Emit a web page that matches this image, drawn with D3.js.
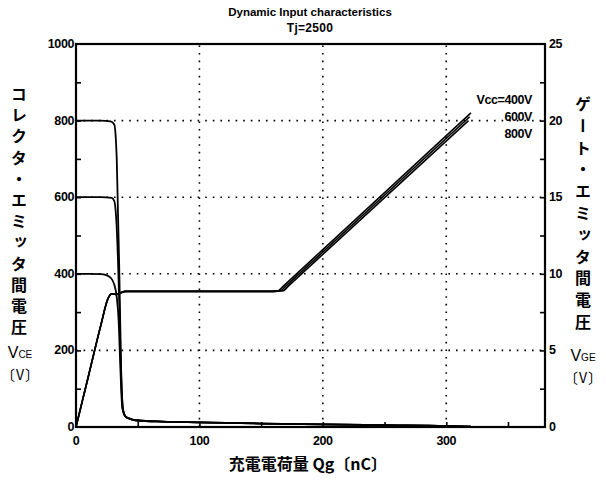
<!DOCTYPE html>
<html>
<head>
<meta charset="utf-8">
<script src="https://cdn.jsdelivr.net/npm/d3@7.9.0/dist/d3.min.js"></script>
<style>
  body { margin: 0; background: #fff; }
  svg text { font-family: "Liberation Sans", Arial, sans-serif; fill: #000; }
  .tick-lbl { font-size: 12.5px; font-weight: bold; letter-spacing: -0.4px; }
  .jp { font-family: "Noto Sans CJK JP", sans-serif; font-size: 16px; font-weight: bold; }
</style>
</head>
<body>
<svg id="chart" width="606" height="490"></svg>
<script>
// ---- data ----
const xTicks   = [0, 100, 200, 300];
const vceTicks = [0, 200, 400, 600, 800, 1000];
const vgeTicks = [0, 5, 10, 15, 20, 25];

// collector-emitter voltage fall (left axis)
const q800 = [0, 10, 20, 28, 31, 33, 34, 35, 36.5, 38];
const v800 = [800, 800, 800, 798, 790, 700, 560, 420, 160, 50];
const q600 = [0, 10, 20, 29, 31, 33, 35, 36.5, 38];
const v600 = [600, 600, 600, 598, 590, 520, 330, 140, 45];
const q400 = [0, 10, 20, 24, 28, 31, 33, 34.5, 36, 37.5];
const v400 = [400, 400, 399, 397, 390, 372, 340, 280, 150, 50];
// shared low tail after the fall
const qTail = [40, 45, 50, 70, 100, 150, 200, 250, 300, 320];
const vTail = [28, 20, 17, 14, 12, 9, 7, 5, 3, 1];

// gate-emitter voltage (right axis)
const qGate = [0, 10, 20, 26, 29, 32, 36, 40, 60, 100, 160];
const vGate = [0, 3.3, 6.6, 8.4, 8.7, 8.65, 8.75, 8.85, 8.85, 8.85, 8.85];
const qRise400 = [164, 168, 320], vRise400 = [8.9, 9.2, 20.5];
const qRise600 = [166, 170, 319], vRise600 = [8.9, 9.2, 20.25];
const qRise800 = [168, 172, 318], vRise800 = [8.9, 9.2, 20.0];

const vccLabels = ["Vcc=400V", "600V", "800V"];

// ---- layout ----
const svg = d3.select('#chart');
const L = 76, R = 545, T = 44, B = 427;
const x  = d3.scaleLinear([0, 380], [L, R]);
const yL = d3.scaleLinear([0, 1000], [B, T]);
const yR = d3.scaleLinear([0, 25], [B, T]);

const zip = (a, b) => a.map((d, i) => [d, b[i]]);

// grid
svg.append('g').selectAll('line').data(xTicks.slice(1)).enter().append('line')
  .attr('x1', d => x(d)).attr('x2', d => x(d)).attr('y1', B).attr('y2', T)
  .attr('stroke', '#000').attr('stroke-width', 1.6).attr('stroke-dasharray', '1.6 6');
svg.append('g').selectAll('line').data(vceTicks.slice(1, -1)).enter().append('line')
  .attr('x1', L).attr('x2', R).attr('y1', d => yL(d)).attr('y2', d => yL(d))
  .attr('stroke', '#000').attr('stroke-width', 1.6).attr('stroke-dasharray', '1.6 6');

// axes with inward ticks
const ax = (g, axis) => { g.call(axis); g.selectAll('.domain').remove(); g.selectAll('text').remove();
  g.selectAll('line').attr('stroke', '#000').attr('stroke-width', 1.6); };
svg.append('g').attr('transform', `translate(0,${B})`)
  .call(g => ax(g, d3.axisTop(x).tickValues(d3.range(50, 380, 50)).tickSize(5)));
svg.append('g').attr('transform', `translate(${L},0)`)
  .call(g => ax(g, d3.axisRight(yL).tickValues(d3.range(100, 1000, 100)).tickSize(5)));
svg.append('g').attr('transform', `translate(${R},0)`)
  .call(g => ax(g, d3.axisLeft(yR).tickValues(d3.range(2.5, 25, 2.5)).tickSize(5)));

// frame
svg.append('rect').attr('x', L).attr('y', T).attr('width', R - L).attr('height', B - T)
  .attr('fill', 'none').attr('stroke', '#000').attr('stroke-width', 2.2);

// tick labels
svg.append('g').selectAll('text').data(xTicks).enter().append('text').attr('class', 'tick-lbl')
  .attr('x', d => x(d)).attr('y', B + 18).attr('text-anchor', 'middle').text(d => d);
svg.append('g').selectAll('text').data(vceTicks).enter().append('text').attr('class', 'tick-lbl')
  .attr('x', L - 2).attr('y', d => yL(d) + 4).attr('text-anchor', 'end').text(d => d);
svg.append('g').selectAll('text').data(vgeTicks).enter().append('text').attr('class', 'tick-lbl')
  .attr('x', R + 4).attr('y', d => yR(d) + 4).text(d => d);

// curves
const lineL = d3.line().x(d => x(d[0])).y(d => yL(d[1])).curve(d3.curveMonotoneX);
const lineR = d3.line().x(d => x(d[0])).y(d => yR(d[1])).curve(d3.curveMonotoneX);
const vceSeries = [[q800, v800], [q600, v600], [q400, v400]]
  .map(([q, v]) => zip(q, v).concat(zip(qTail, vTail)));
const gateSeries = [[qRise400, vRise400], [qRise600, vRise600], [qRise800, vRise800]]
  .map(([q, v]) => zip(qGate, vGate).concat(zip(q, v)));

svg.append('g').selectAll('path').data(vceSeries).enter().append('path')
  .attr('d', lineL).attr('fill', 'none').attr('stroke', '#000').attr('stroke-width', 1.8);
svg.append('g').selectAll('path').data(gateSeries).enter().append('path')
  .attr('d', lineR).attr('fill', 'none').attr('stroke', '#000').attr('stroke-width', 1.6);

// Vcc labels
svg.append('g').selectAll('text').data(vccLabels).enter().append('text').attr('class', 'tick-lbl')
  .attr('x', 532).attr('y', (d, i) => 104 + i * 17).attr('text-anchor', 'end').text(d => d);

// title
svg.append('text').attr('x', 310).attr('y', 16).attr('text-anchor', 'middle')
  .attr('class', 'tick-lbl').style('font-size', '11.5px').style('letter-spacing', '0')
  .text('Dynamic Input characteristics');
svg.append('text').attr('x', 310).attr('y', 32).attr('text-anchor', 'middle')
  .attr('class', 'tick-lbl').style('font-size', '12px').style('letter-spacing', '0.3px')
  .text('Tj=2500');

// vertical Japanese axis titles
function vertical(str, cx, y0, spacing) {
  svg.append('text').attr('class', 'jp').attr('x', cx).attr('y', y0)
    .style('writing-mode', 'vertical-rl').style('letter-spacing', spacing + 'px')
    .text(str);
}
vertical('コレクタ・エミッタ間電圧', 19, 86, 5.2);
vertical('ゲート・エミッタ間電圧', 583, 96, 5.8);

function unit(cx, y, sub) {
  const t = svg.append('text').attr('x', cx).attr('y', y).attr('text-anchor', 'middle')
    .style('font-size', '16px');
  t.append('tspan').text('V');
  t.append('tspan').style('font-size', '10px').text(sub);
  const u = svg.append('text').attr('class', 'jp').attr('x', cx).attr('y', y + 22)
    .attr('text-anchor', 'middle').style('font-weight', 'normal').style('font-size', '14px');
  u.append('tspan').text('〔');
  u.append('tspan').attr('dx', 1).text('V');
  u.append('tspan').attr('dx', 1).text('〕');
}
unit(20, 358, 'CE');
unit(583, 361, 'GE');

// x title
svg.append('text').attr('x', 308).attr('y', 470).attr('text-anchor', 'middle')
  .attr('class', 'jp').style('font-size', '16px').text('充電電荷量 Qg〔nC〕');
</script>
</body>
</html>
